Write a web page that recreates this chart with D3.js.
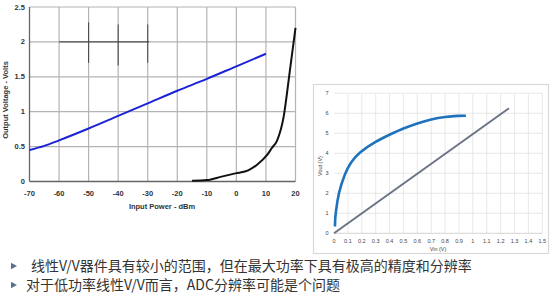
<!DOCTYPE html>
<html>
<head>
<meta charset="utf-8">
<script src="https://d3js.org/d3.v7.min.js"></script>
<style>
body { margin: 0; background: #fff; }
svg { display: block; }
.lt text { font-family: "Liberation Sans", Arial, sans-serif; font-weight: bold; fill: #333; }
.rt text { font-family: "Liberation Sans", Arial, sans-serif; fill: #444; }
.note { font-family: "Noto Sans CJK SC", sans-serif; fill: #333; font-size: 14px; }
</style>
</head>
<body>
<script>
// left chart data
var powerTicks = [-70, -60, -50, -40, -30, -20, -10, 0, 10, 20];
var voltTicks = [0, 0.5, 1, 1.5, 2, 2.5];
var linearP = [-70, -65, -60, -50, -40, -30, -20, -10, 0, 10];
var linearV = [0.45, 0.51, 0.59, 0.76, 0.94, 1.12, 1.30, 1.47, 1.65, 1.83];
var diodeP = [-15, -10, -5, 0, 4, 7, 10.4, 12, 13.8, 16, 18.1, 20];
var diodeV = [0.01, 0.02, 0.07, 0.12, 0.16, 0.24, 0.38, 0.48, 0.59, 0.93, 1.59, 2.2];
// marker cross in the left chart
var markX = [-50, -40, -30];
var markSpan = [-60, -29.5];
var markLevel = 2;
var markLow = [1.7, 1.66, 1.7];
var markHigh = [2.28, 2.25, 2.25];

// right chart data
var vinTicks = [0, 0.1, 0.2, 0.3, 0.4, 0.5, 0.6, 0.7, 0.8, 0.9, 1, 1.1, 1.2, 1.3, 1.4, 1.5];
var voutTicks = [0, 1, 2, 3, 4, 5, 6, 7];
var curveVin = [0.007, 0.008, 0.012, 0.031, 0.079, 0.12, 0.18, 0.3, 0.4, 0.5, 0.6, 0.7, 0.8, 0.9, 0.95];
var curveVout = [0.34, 0.7, 1.0, 2.0, 3.0, 3.55, 4.05, 4.6, 4.93, 5.25, 5.5, 5.71, 5.83, 5.88, 5.88];
var lineVin = [0, 1.26];
var lineVout = [0, 6.25];

var notes = [
  "线性V/V器件具有较小的范围，但在最大功率下具有极高的精度和分辨率",
  "对于低功率线性V/V而言，ADC分辨率可能是个问题"
];

var svg = d3.select("body").append("svg")
    .attr("width", 550)
    .attr("height", 299);

// ---------- left chart ----------
var lx = d3.scaleLinear().domain([-70, 20]).range([29.5, 295.5]);
var ly = d3.scaleLinear().domain([0, 2.5]).range([181.5, 7]);
var L = svg.append("g").attr("class", "lt");

L.append("g").selectAll("line").data(powerTicks.slice(1))
  .enter().append("line")
    .attr("x1", function(d) { return lx(d); }).attr("x2", function(d) { return lx(d); })
    .attr("y1", ly(0)).attr("y2", ly(2.5))
    .attr("stroke", "#b4b4b4").attr("stroke-width", 1.2);
L.append("g").selectAll("line").data(voltTicks.slice(1))
  .enter().append("line")
    .attr("x1", lx(-70)).attr("x2", lx(20))
    .attr("y1", function(d) { return ly(d); }).attr("y2", function(d) { return ly(d); })
    .attr("stroke", "#b4b4b4").attr("stroke-width", 1.2);
// axes lines
L.append("line").attr("x1", lx(-70)).attr("x2", lx(-70)).attr("y1", ly(0)).attr("y2", ly(2.5))
  .attr("stroke", "#666").attr("stroke-width", 1.3);
L.append("line").attr("x1", lx(-70)).attr("x2", lx(20)).attr("y1", ly(0)).attr("y2", ly(0))
  .attr("stroke", "#666").attr("stroke-width", 1.3);

L.append("g").selectAll("text").data(voltTicks)
  .enter().append("text")
    .attr("x", 25).attr("y", function(d) { return ly(d) + 2.5; })
    .attr("text-anchor", "end").attr("font-size", 7.5)
    .text(function(d) { return d; });
L.append("g").selectAll("text").data(powerTicks)
  .enter().append("text")
    .attr("x", function(d) { return lx(d); }).attr("y", 195.5)
    .attr("text-anchor", "middle").attr("font-size", 7.5)
    .text(function(d) { return d; });
L.append("text").attr("x", 162).attr("y", 208.5).attr("text-anchor", "middle")
  .attr("font-size", 7.5).text("Input Power - dBm");
L.append("text").attr("transform", "translate(7.5,100) rotate(-90)").attr("text-anchor", "middle")
  .attr("font-size", 7.5).text("Output Voltage - Volts");

// marker cross
L.append("line").attr("x1", lx(markSpan[0])).attr("x2", lx(markSpan[1]))
  .attr("y1", ly(markLevel)).attr("y2", ly(markLevel))
  .attr("stroke", "#333").attr("stroke-width", 1);
L.append("g").selectAll("line").data(markX)
  .enter().append("line")
    .attr("x1", function(d) { return lx(d); }).attr("x2", function(d) { return lx(d); })
    .attr("y1", function(d, i) { return ly(markLow[i]); })
    .attr("y2", function(d, i) { return ly(markHigh[i]); })
    .attr("stroke", "#444").attr("stroke-width", 1);

var lline = d3.line().curve(d3.curveMonotoneX)
  .x(function(d) { return lx(d[0]); }).y(function(d) { return ly(d[1]); });
L.append("path").datum(d3.zip(linearP, linearV))
  .attr("d", lline).attr("fill", "none").attr("stroke", "#1c22d6").attr("stroke-width", 2);
L.append("path").datum(d3.zip(diodeP, diodeV))
  .attr("d", lline).attr("fill", "none").attr("stroke", "#111").attr("stroke-width", 2);

// ---------- right chart ----------
var R = svg.append("g").attr("class", "rt");
R.append("rect").attr("x", 313.5).attr("y", 84.5).attr("width", 235).attr("height", 169)
  .attr("fill", "#fff").attr("stroke", "#d9d9d9").attr("stroke-width", 1.2);

var rx = d3.scaleLinear().domain([0, 1.5]).range([334, 542.3]);
var ry = d3.scaleLinear().domain([0, 7]).range([233.3, 93.3]);

R.append("g").selectAll("line").data(vinTicks.slice(1))
  .enter().append("line")
    .attr("x1", function(d) { return rx(d); }).attr("x2", function(d) { return rx(d); })
    .attr("y1", ry(0)).attr("y2", ry(7))
    .attr("stroke", "#e3e3e3").attr("stroke-width", 0.8);
R.append("g").selectAll("line").data(voutTicks)
  .enter().append("line")
    .attr("x1", rx(0)).attr("x2", rx(1.5))
    .attr("y1", function(d) { return ry(d); }).attr("y2", function(d) { return ry(d); })
    .attr("stroke", function(d) { return d === 0 ? "#c8c8c8" : "#e3e3e3"; }).attr("stroke-width", 0.8);

R.append("g").selectAll("text").data(voutTicks)
  .enter().append("text")
    .attr("x", 328.5).attr("y", function(d) { return ry(d) + 2; })
    .attr("text-anchor", "end").attr("font-size", 5.5)
    .text(function(d) { return d; });
R.append("g").selectAll("text").data(vinTicks)
  .enter().append("text")
    .attr("x", function(d) { return rx(d); }).attr("y", 242.5)
    .attr("text-anchor", "middle").attr("font-size", 5.5)
    .text(function(d) { return d; });
R.append("text").attr("x", 438).attr("y", 250.5).attr("text-anchor", "middle")
  .attr("font-size", 5.5).text("Vin (V)");
R.append("text").attr("transform", "translate(322,166) rotate(-90)").attr("text-anchor", "middle")
  .attr("font-size", 5.5).text("Vout (V)");

var rline = d3.line().curve(d3.curveBasis)
  .x(function(d) { return rx(d[0]); }).y(function(d) { return ry(d[1]); });
R.append("path").datum(d3.zip(lineVin, lineVout))
  .attr("d", rline).attr("fill", "none").attr("stroke", "#6b7384").attr("stroke-width", 2);
R.append("path").datum(d3.zip(curveVin, curveVout))
  .attr("d", rline).attr("fill", "none").attr("stroke", "#1f73bd").attr("stroke-width", 2.6);

// ---------- notes ----------
var N = svg.append("g");
N.selectAll("path").data(notes)
  .enter().append("path")
    .attr("d", function(d, i) {
      var cy = 266 + i * 19;
      return "M11," + (cy - 3.2) + "L17," + cy + "L11," + (cy + 3.2) + "Z";
    })
    .attr("fill", "#5b6f8e");
N.selectAll("text").data(notes)
  .enter().append("text")
    .attr("class", "note")
    .attr("x", function(d, i) { return i === 0 ? 31 : 26; })
    .attr("y", function(d, i) { return 271 + i * 19; })
    .text(function(d) { return d; });
</script>
</body>
</html>
